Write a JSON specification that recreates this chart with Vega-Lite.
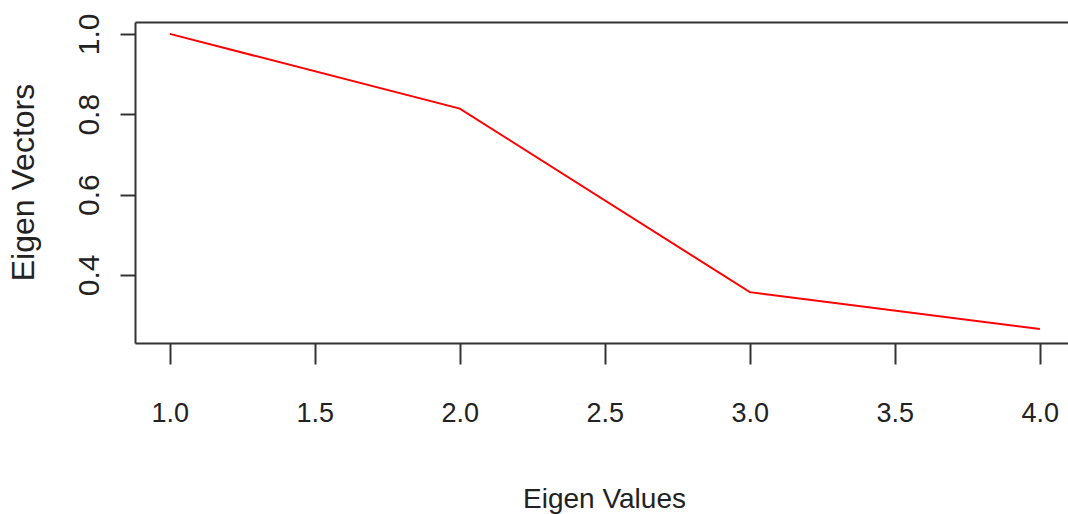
{
  "$schema": "https://vega.github.io/schema/vega-lite/v6.json",
  "autosize": {"type": "none"},
  "padding": {"left": 135, "top": 22, "right": 0, "bottom": 171},
  "width": 933,
  "height": 321,
  "background": "white",
  "config": {"view": {"stroke": null}},
  "data": {"values": [
    {"ev": 1, "vec": 1.0},
    {"ev": 2, "vec": 0.814},
    {"ev": 3, "vec": 0.357},
    {"ev": 4, "vec": 0.265}
  ]},
  "layer": [
    {
      "mark": {"type": "line", "color": "#ff0000", "strokeWidth": 2},
      "encoding": {
        "x": {"field": "ev", "type": "quantitative",
          "scale": {"domain": [0.88, 4.097], "nice": false, "zero": false},
          "axis": {"orient": "bottom", "values": [1, 1.5, 2, 2.5, 3, 3.5, 4], "format": ".1f",
            "grid": false, "domainColor": "#333", "domainWidth": 2, "tickColor": "#333", "tickWidth": 2, "tickSize": 21,
            "labelFont": "Liberation Sans", "labelFontSize": 27, "labelColor": "#222",
            "labelBaseline": "alphabetic", "labelPadding": 57, "labelFlush": false, "labelOverlap": false,
            "title": "Eigen Values", "titleFont": "Liberation Sans", "titleFontSize": 28, "titleFontWeight": "normal",
            "titleColor": "#222", "titleBaseline": "alphabetic", "titleAlign": "center", "titleX": 469, "titleY": 164}},
        "y": {"field": "vec", "type": "quantitative",
          "scale": {"domain": [0.2304, 1.0296], "nice": false, "zero": false},
          "axis": {"values": [0.4, 0.6, 0.8, 1.0], "format": ".1f", "grid": false,
            "domainColor": "#333", "domainWidth": 2, "tickColor": "#333", "tickWidth": 2, "tickSize": 15,
            "labelAngle": -90, "labelAlign": "center", "labelBaseline": "alphabetic", "labelPadding": 22,
            "labelFont": "Liberation Sans", "labelFontSize": 30, "labelColor": "#222", "labelFlush": false, "labelOverlap": false,
            "title": "Eigen Vectors", "titleFont": "Liberation Sans", "titleFontSize": 32, "titleFontWeight": "normal",
            "titleColor": "#222", "titleAngle": -90, "titleAlign": "center", "titleBaseline": "alphabetic",
            "titleX": -102, "titleY": 160}}
      }
    },
    {
      "mark": {"type": "line", "opacity": 0},
      "encoding": {
        "x": {"field": "ev", "type": "quantitative",
          "scale": {"domain": [0.88, 4.097], "nice": false, "zero": false},
          "axis": {"orient": "top", "labels": false, "ticks": false, "grid": false, "title": null,
            "domainColor": "#333", "domainWidth": 2}},
        "y": {"field": "vec", "type": "quantitative"}
      }
    }
  ],
  "resolve": {"axis": {"x": "independent"}}
}
